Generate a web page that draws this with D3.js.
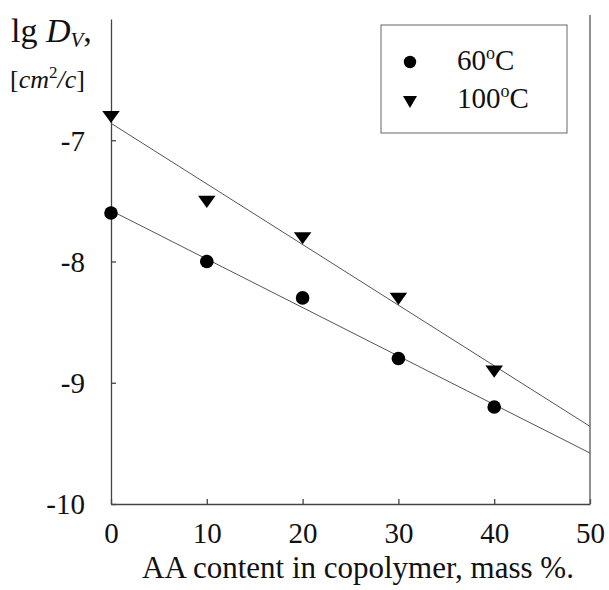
<!DOCTYPE html>
<html>
<head>
<meta charset="utf-8">
<script src="https://cdn.jsdelivr.net/npm/d3@7"></script>
<style>
  body { margin: 0; background: #fff; }
  text { font-family: "Liberation Serif", "Times New Roman", serif; fill: #111; }
</style>
</head>
<body>
<div id="svg-container"></div>
<script>
// values
var content = [0, 10, 20, 30, 40];
var lgD60 = [-7.6, -8.0, -8.3, -8.8, -9.2];
var lgD100 = [-6.8, -7.5, -7.8, -8.3, -8.9];
var xTicks = [0, 10, 20, 30, 40, 50];
var yTicks = [-10, -9, -8, -7];

var width = 609,
    height = 590;

var svg = d3.select("#svg-container")
  .append("svg")
    .attr("width", width)
    .attr("height", height);

var x = d3.scaleLinear().domain([0, 50]).range([111, 590]);
var y = d3.scaleLinear().domain([-10, -6]).range([504, 19]);

// least squares line through each series
function fit(xs, ys) {
  var mx = d3.mean(xs), my = d3.mean(ys);
  var sxy = d3.sum(xs, function(d, i) { return (d - mx) * (ys[i] - my); });
  var sxx = d3.sum(xs, function(d) { return (d - mx) * (d - mx); });
  var b = sxy / sxx;
  return { a: my - b * mx, b: b };
}

var series = [
  { name: "60", values: lgD60, shape: "circle" },
  { name: "100", values: lgD100, shape: "triangle" }
];

// axes
var xAxis = d3.axisBottom(x)
    .tickValues(xTicks)
    .tickSizeInner(-5)
    .tickSizeOuter(0)
    .tickPadding(18)
    .tickFormat(d3.format("d"));

var yAxis = d3.axisLeft(y)
    .tickValues(yTicks)
    .tickSizeInner(-5)
    .tickSizeOuter(0)
    .tickPadding(26)
    .tickFormat(function(d) { return "-" + Math.abs(d); });

var gx = svg.append("g")
    .attr("transform", "translate(0," + y(-10) + ")")
    .call(xAxis);
gx.selectAll("text").attr("font-size", 29).style("font-family", "Liberation Serif");

var gy = svg.append("g")
    .attr("transform", "translate(" + x(0) + ",0)")
    .call(yAxis);
gy.selectAll("text").attr("font-size", 29).attr("dy", "0.34em").style("font-family", "Liberation Serif");

svg.selectAll(".domain, .tick line").attr("stroke", "#444").attr("stroke-width", 1.3);

// right frame line
svg.append("line")
    .attr("x1", x(50)).attr("x2", x(50))
    .attr("y1", 15).attr("y2", y(-10))
    .attr("stroke", "#555")
    .attr("stroke-width", 1.3);

// fitted lines
series.forEach(function(s) {
  var f = fit(content, s.values);
  svg.append("line")
      .attr("x1", x(0)).attr("y1", y(f.a))
      .attr("x2", x(50)).attr("y2", y(f.a + f.b * 50))
      .attr("stroke", "#555")
      .attr("stroke-width", 1);
});

var tri = d3.symbol().type(d3.symbolTriangle).size(85);

// points
series.forEach(function(s) {
  var g = svg.append("g");
  content.forEach(function(c, i) {
    if (s.shape === "circle") {
      g.append("circle")
          .attr("cx", x(c))
          .attr("cy", y(s.values[i]))
          .attr("r", 6.8)
          .attr("fill", "#000");
    } else {
      g.append("path")
          .attr("d", tri)
          .attr("transform", "translate(" + x(c) + "," + (y(s.values[i]) - 1) + ") rotate(180) scale(1.25,1)")
          .attr("fill", "#000");
    }
  });
});

// y title
var t1 = svg.append("text").attr("x", 11).attr("y", 42).attr("font-size", 34);
t1.append("tspan").text("lg ");
t1.append("tspan").attr("font-style", "italic").text("D");
t1.append("tspan").attr("font-style", "italic").attr("font-size", 21).attr("dy", 5).text("V");
t1.append("tspan").attr("dy", -5).text(",");

var t2 = svg.append("text").attr("x", 10).attr("y", 88).attr("font-size", 26);
t2.append("tspan").text("[");
t2.append("tspan").attr("font-style", "italic").text("cm");
t2.append("tspan").attr("font-size", 17).attr("dy", -10).text("2");
t2.append("tspan").attr("font-style", "italic").attr("dy", 10).text("/c");
t2.append("tspan").text("]");

// x title
svg.append("text")
    .attr("x", 358)
    .attr("y", 578)
    .attr("text-anchor", "middle")
    .attr("font-size", 31)
    .text("AA content in copolymer, mass %.");

// legend
var lg = svg.append("g");
lg.append("rect")
    .attr("x", 381).attr("y", 25)
    .attr("width", 186).attr("height", 108)
    .attr("fill", "#fff")
    .attr("stroke", "#666")
    .attr("stroke-width", 1);

series.forEach(function(s, i) {
  var cy = 62 + i * 38;
  if (s.shape === "circle") {
    lg.append("circle").attr("cx", 410).attr("cy", cy).attr("r", 6.2).attr("fill", "#000");
  } else {
    lg.append("path")
        .attr("d", tri)
        .attr("transform", "translate(410," + cy + ") rotate(180) scale(1.0,1)")
        .attr("fill", "#000");
  }
  var t = lg.append("text").attr("x", 457).attr("y", cy + 8).attr("font-size", 29);
  t.append("tspan").text(s.name);
  t.append("tspan").attr("font-size", 18).attr("dy", -11).text("o");
  t.append("tspan").attr("dy", 11).text("C");
});
</script>
</body>
</html>
